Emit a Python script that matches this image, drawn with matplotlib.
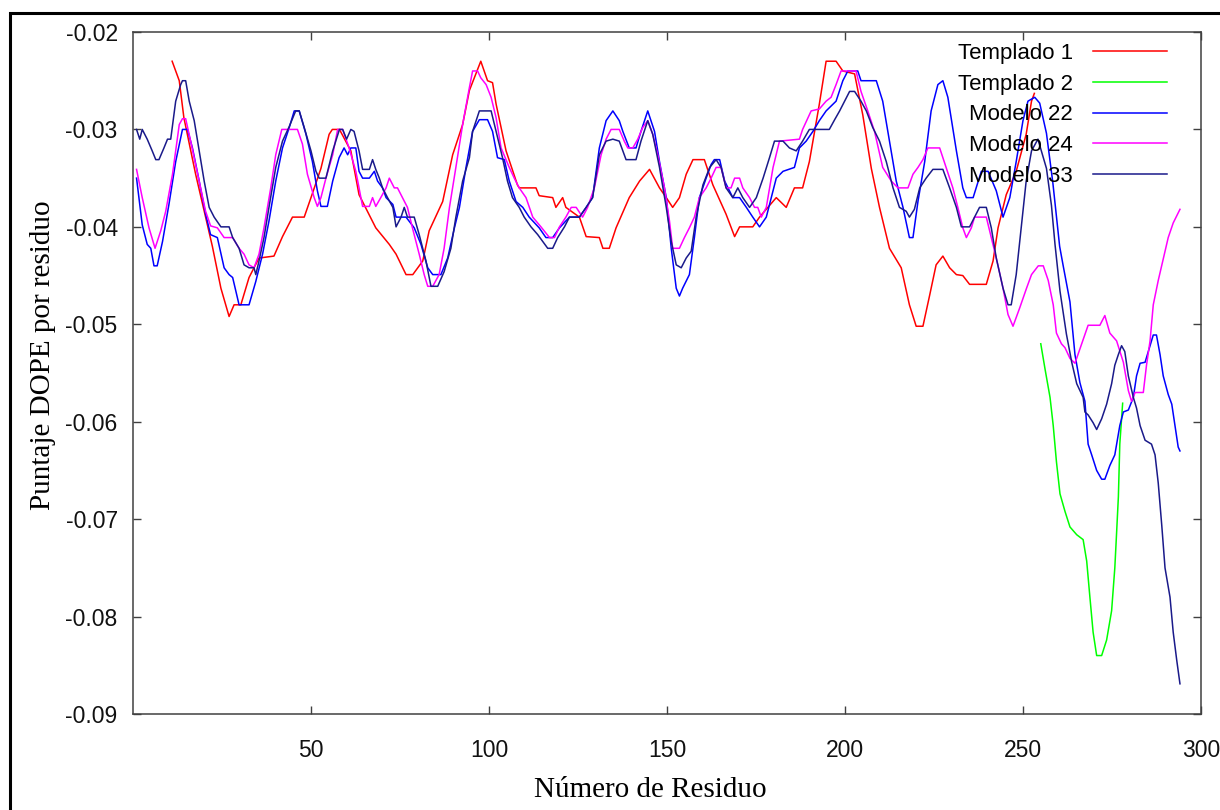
import matplotlib
matplotlib.use("Agg")
import matplotlib.pyplot as plt
from matplotlib.patches import Rectangle
from matplotlib.ticker import FormatStrFormatter

plt.rcParams['axes.unicode_minus'] = False

# DOPE score per residue
t1_x = [11, 13, 14.3, 17.6, 20.4, 22.3, 24.7, 27, 28.4, 30.3, 32.6, 35.4, 39.6, 42, 44.8, 48.1, 50,
        52.8, 55.1, 56, 58, 61.2, 63.5, 68.2, 72, 73.9, 76.7, 78.6, 81.4, 83.2, 87, 89.8, 92.6, 94.5,
        97.7, 99.6, 101, 102, 104.8, 108, 108.5, 113.2, 114.1, 117.9, 118.8, 120.7, 121.6, 125.4,
        127.3, 131, 132, 133.8, 135.7, 139.4, 142.3, 145.1, 147.9, 149.8, 151.6, 153.5, 155.4, 157.3,
        160.5, 162.9, 166.6, 169, 170.4, 174.1, 176, 180.7, 183.5, 185.8, 188.1, 190, 192.8, 194.7,
        197.5, 199.4, 202.7, 205, 207.4, 209.7, 212.5, 215.8, 218.1, 220, 221.9, 223.8, 225.6, 227.5,
        229.4, 231.3, 233.1, 235, 239.7, 241.6, 243, 245.3, 248.1, 250.9, 252.4, 253.2]
t1_y = [-0.0230, -0.0250, -0.0288, -0.0346, -0.0390, -0.0420, -0.0463, -0.0492, -0.0480, -0.0480,
        -0.0452, -0.0432, -0.0430, -0.0410, -0.0390, -0.0390, -0.0370, -0.0340, -0.0305, -0.0300,
        -0.0300, -0.0322, -0.0367, -0.0401, -0.0418, -0.0428, -0.0449, -0.0449, -0.0435, -0.0404,
        -0.0374, -0.0326, -0.0295, -0.0260, -0.0230, -0.0250, -0.0252, -0.0274, -0.0322, -0.0357,
        -0.0360, -0.0360, -0.0368, -0.0370, -0.0380, -0.0370, -0.0380, -0.0390, -0.0410, -0.0411,
        -0.0422, -0.0422, -0.0401, -0.0370, -0.0353, -0.0341, -0.0360, -0.0370, -0.0380, -0.0370,
        -0.0346, -0.0331, -0.0331, -0.0357, -0.0387, -0.0410, -0.0400, -0.0400, -0.0390, -0.0370,
        -0.0380, -0.0360, -0.0360, -0.0333, -0.0274, -0.0230, -0.0230, -0.0240, -0.0243, -0.0285,
        -0.0340, -0.0380, -0.0422, -0.0442, -0.0480, -0.0502, -0.0502, -0.0470, -0.0439, -0.0430,
        -0.0442, -0.0449, -0.0450, -0.0459, -0.0459, -0.0435, -0.0401, -0.0367, -0.0343, -0.0305,
        -0.0271, -0.0263]

t2_x = [255, 256.2, 257.6, 258.5, 259.4, 260.4, 261.8, 263.2, 265.1, 266.9, 267.9, 268.8, 269.7,
        270.7, 272.1, 273.5, 274.9, 275.8, 276.3, 276.8, 277.2, 278]
t2_y = [-0.0520, -0.0546, -0.0575, -0.0604, -0.0641, -0.0674, -0.0692, -0.0708, -0.0716, -0.0721,
        -0.0743, -0.0780, -0.0816, -0.0840, -0.0840, -0.0824, -0.0794, -0.0750, -0.0714, -0.0677,
        -0.0623, -0.0581]

m22_x = [1, 2.6, 4, 5, 5.9, 6.8, 8.3, 10.1, 12, 13.9, 15.3, 16.7, 18.6, 20.4, 21.8, 23.7, 25.6, 27,
         28, 29.8, 32.6, 34.5, 36.4, 38.2, 40.1, 42, 43.9, 45.3, 46.7, 48.6, 50.4, 51.8, 52.8, 54.6,
         56.1, 57.9, 59.3, 60.3, 61.2, 62.6, 63.5, 64.5, 66.4, 67.8, 68.7, 70.1, 71.1, 73, 73.9, 76.7,
         79, 80.9, 82.8, 84.2, 86.5, 88.4, 90.3, 91.7, 93.5, 95.4, 97.3, 99.6, 101, 102.4, 104.3,
         105.7, 107.6, 109.5, 111.3, 114.1, 116, 117.9, 119.8, 122.6, 125.4, 127.3, 129.1, 131, 132.9,
         134.8, 136.6, 137.6, 139.4, 141.3, 142.7, 144.6, 146.5, 147.9, 149.8, 151.2, 152.6, 153.5,
         154.4, 156.3, 157.7, 159.1, 161, 162.4, 163.3, 164.8, 166.2, 168.5, 170.4, 172.3, 174.1, 176,
         177.9, 180.7, 182.6, 185.8, 187.2, 189.1, 191, 192.8, 194.7, 197.5, 199.4, 200.8, 203.6,
         204.5, 208.8, 210.6, 212.5, 214.4, 216.3, 218.1, 219.1, 220.5, 222.4, 224.2, 226.1, 227.5,
         228.9, 231.3, 233.1, 234.1, 236, 238.3, 240.2, 242.5, 244.4, 246.3, 248.1, 250, 251.4, 253.3,
         254.7, 256.6, 258.4, 260.3, 261.3, 263.2, 264.6, 266, 267.4, 268.3, 269.3, 270.7, 272.1, 273,
         274.4, 275.8, 277.2, 278.2, 279.6, 281, 281.9, 282.9, 284.3, 285.7, 286.6, 287.5, 288.5,
         289.4, 290.8, 291.8, 292.7, 293.6, 294.1]
m22_y = [-0.0350, -0.0398, -0.0418, -0.0422, -0.0440, -0.0440, -0.0415, -0.0377, -0.0333, -0.0300,
         -0.0300, -0.0319, -0.0353, -0.0387, -0.0408, -0.0411, -0.0442, -0.0449, -0.0452, -0.0480,
         -0.0480, -0.0456, -0.0428, -0.0394, -0.0353, -0.0319, -0.0298, -0.0281, -0.0281, -0.0305,
         -0.0333, -0.0363, -0.0379, -0.0379, -0.0353, -0.0329, -0.0319, -0.0326, -0.0319, -0.0319,
         -0.0343, -0.0350, -0.0350, -0.0343, -0.0353, -0.0360, -0.0370, -0.0377, -0.0390, -0.0390,
         -0.0401, -0.0418, -0.0442, -0.0449, -0.0449, -0.0432, -0.0401, -0.0380, -0.0340, -0.0302,
         -0.0290, -0.0290, -0.0302, -0.0329, -0.0331, -0.0353, -0.0374, -0.0380, -0.0390, -0.0401,
         -0.0411, -0.0411, -0.0401, -0.0390, -0.0390, -0.0380, -0.0370, -0.0319, -0.0291, -0.0281,
         -0.0291, -0.0302, -0.0319, -0.0319, -0.0302, -0.0281, -0.0302, -0.0333, -0.0370, -0.0422,
         -0.0463, -0.0471, -0.0463, -0.0449, -0.0411, -0.0370, -0.0350, -0.0336, -0.0331, -0.0331,
         -0.0353, -0.0370, -0.0370, -0.0380, -0.0390, -0.0400, -0.0390, -0.0350, -0.0343, -0.0339,
         -0.0319, -0.0312, -0.0302, -0.0291, -0.0281, -0.0271, -0.0250, -0.0240, -0.0240, -0.0250,
         -0.0250, -0.0271, -0.0312, -0.0353, -0.0380, -0.0411, -0.0411, -0.0374, -0.0333, -0.0281,
         -0.0254, -0.0250, -0.0267, -0.0322, -0.0360, -0.0370, -0.0370, -0.0343, -0.0343, -0.0363,
         -0.0390, -0.0370, -0.0333, -0.0291, -0.0271, -0.0267, -0.0273, -0.0304, -0.0355, -0.0420,
         -0.0440, -0.0477, -0.0531, -0.0560, -0.0579, -0.0623, -0.0634, -0.0650, -0.0659, -0.0659,
         -0.0645, -0.0634, -0.0604, -0.0590, -0.0588, -0.0575, -0.0553, -0.0540, -0.0539, -0.0522,
         -0.0511, -0.0511, -0.0531, -0.0553, -0.0572, -0.0582, -0.0604, -0.0626, -0.0630]

m24_x = [1, 2.6, 4.5, 6.2, 7.8, 9.2, 11.1, 13, 13.9, 14.8, 16.2, 17.6, 19, 20.4, 21.8, 23.7, 25.6,
         28, 29.8, 31.2, 32.6, 34, 35.4, 36.8, 38.7, 40.1, 41.8, 46.2, 47.6, 49, 50.9, 51.8, 52.8,
         54.2, 56.1, 57.5, 58.9, 60.7, 62.6, 63.5, 64.5, 66.4, 67.3, 68.2, 69.6, 71.1, 72, 73.4, 74.3,
         75.7, 77.1, 78.5, 80.4, 81.8, 82.8, 84.2, 86, 87.4, 88.9, 90.7, 92.6, 94.5, 95.4, 96.8, 97.7,
         99.2, 100.6, 102, 103.4, 105.7, 107.1, 108.5, 110.4, 112.3, 114.6, 117, 118.4, 119.8, 121.6,
         123.1, 124.5, 126.3, 127.7, 129.6, 131.5, 132.9, 134.3, 136.6, 138, 139, 140.4, 141.8, 143.2,
         144.6, 146, 147.4, 149.3, 150.7, 151.6, 153.5, 154.9, 156.3, 157.7, 159.1, 161, 162.4, 163.8,
         165.2, 166.6, 168, 169, 170.4, 171.3, 173.2, 174.6, 175.5, 176.5, 177.9, 179.8, 181.6, 187.2,
         188.1, 190.5, 192.8, 194.7, 196.1, 197.5, 198.9, 203.1, 204.5, 206.4, 208.3, 210.6, 213,
         214.9, 217.7, 219.1, 220.5, 221.9, 223.3, 226.6, 228.4, 230.3, 231.7, 233.1, 234.1, 235.5,
         236.4, 239.7, 241.1, 242.5, 244.4, 245.8, 247.2, 249.1, 251, 252.4, 254.3, 255.7, 257.1,
         258.5, 259.4, 260.8, 261.8, 263.2, 264.6, 266.5, 268.3, 271.6, 273, 274.4, 276.3, 278.2,
         279.6, 280.5, 281.5, 283.8, 284.7, 285.7, 286.6, 288, 289.4, 290.8, 292.2, 294.1]
m24_y = [-0.0341, -0.0370, -0.0401, -0.0422, -0.0404, -0.0384, -0.0346, -0.0295, -0.0289, -0.0289,
         -0.0312, -0.0336, -0.0360, -0.0384, -0.0399, -0.0401, -0.0411, -0.0411, -0.0422, -0.0428,
         -0.0439, -0.0442, -0.0428, -0.0401, -0.0360, -0.0326, -0.0300, -0.0300, -0.0315, -0.0346,
         -0.0370, -0.0379, -0.0370, -0.0350, -0.0326, -0.0300, -0.0300, -0.0319, -0.0343, -0.0360,
         -0.0379, -0.0379, -0.0370, -0.0379, -0.0370, -0.0360, -0.0350, -0.0360, -0.0360, -0.0370,
         -0.0380, -0.0401, -0.0428, -0.0449, -0.0461, -0.0461, -0.0449, -0.0422, -0.0380, -0.0339,
         -0.0295, -0.0257, -0.0240, -0.0240, -0.0247, -0.0254, -0.0267, -0.0288, -0.0319, -0.0339,
         -0.0350, -0.0360, -0.0370, -0.0390, -0.0400, -0.0411, -0.0411, -0.0400, -0.0390, -0.0380,
         -0.0380, -0.0390, -0.0380, -0.0360, -0.0326, -0.0310, -0.0300, -0.0300, -0.0312, -0.0319,
         -0.0319, -0.0310, -0.0298, -0.0291, -0.0305, -0.0326, -0.0360, -0.0394, -0.0422, -0.0422,
         -0.0411, -0.0401, -0.0390, -0.0370, -0.0360, -0.0350, -0.0339, -0.0339, -0.0360, -0.0360,
         -0.0350, -0.0350, -0.0360, -0.0370, -0.0380, -0.0380, -0.0390, -0.0380, -0.0339, -0.0312,
         -0.0310, -0.0300, -0.0281, -0.0279, -0.0271, -0.0267, -0.0254, -0.0240, -0.0240, -0.0261,
         -0.0281, -0.0302, -0.0339, -0.0353, -0.0360, -0.0360, -0.0346, -0.0339, -0.0331, -0.0319,
         -0.0319, -0.0339, -0.0360, -0.0380, -0.0401, -0.0411, -0.0401, -0.0390, -0.0390, -0.0411,
         -0.0432, -0.0463, -0.0490, -0.0502, -0.0483, -0.0463, -0.0449, -0.0440, -0.0440, -0.0455,
         -0.0480, -0.0509, -0.0520, -0.0524, -0.0535, -0.0540, -0.0520, -0.0501, -0.0501, -0.0491,
         -0.0509, -0.0517, -0.0539, -0.0568, -0.0579, -0.0570, -0.0570, -0.0542, -0.0517, -0.0480,
         -0.0455, -0.0433, -0.0411, -0.0396, -0.0382]

m33_x = [1, 1.9, 2.6, 4, 5.4, 6.4, 7.3, 8.7, 9.7, 10.6, 12, 13.4, 13.9, 14.8, 15.8, 17.2, 18.6, 20,
         21.4, 22.8, 24.7, 27, 28, 29.8, 31.2, 32.6, 34, 34.5, 35.4, 36.8, 38.2, 40.1, 42, 43.9, 45.7,
         46.7, 48.1, 50, 51.4, 52.3, 54.2, 56.1, 58, 58.9, 60, 61.2, 62.1, 63.5, 64.5, 66.4, 67.3,
         68.2, 69.2, 70.1, 71.5, 73, 73.9, 75.3, 76.2, 77.1, 79, 80.4, 82.3, 83.7, 85.6, 87.4, 89.3,
         90.7, 92.6, 94.5, 95.4, 97.3, 100.6, 102, 103.8, 105.2, 106.6, 108.5, 109.9, 111.8, 113.7,
         115.1, 116.5, 117.9, 119.3, 121.2, 122.6, 125.4, 127.3, 129.1, 131, 132.9, 134.8, 136.6,
         138.5, 141.3, 142.7, 144.6, 146, 147.9, 149.8, 151.2, 152.6, 154, 155.4, 156.8, 158.2, 160.1,
         162, 163.8, 165.2, 166.6, 168.5, 169.9, 171.3, 173.2, 175.1, 177, 178.8, 180.2, 182.6, 184.4,
         186.3, 188.1, 190, 195.6, 197.1, 198.5, 199.9, 201.3, 202.7, 204.5, 206, 207.8, 209.7, 211.6,
         213.5, 215.3, 217.2, 218.1, 219.5, 221, 222.8, 224.7, 227.5, 229.4, 231.3, 232.7, 235, 236.4,
         237.8, 239.7, 241.1, 242.5, 244.4, 245.8, 246.7, 248.1, 249.5, 250.9, 252.4, 254.2, 256.6,
         258, 259, 260.4, 262.2, 263.7, 265.1, 266, 266.9, 267.4, 268.3, 269.7, 270.7, 272.1, 273.5,
         274.9, 275.8, 276.8, 277.7, 278.6, 279.6, 281, 281.9, 282.9, 284.3, 286.1, 287.1, 288, 289,
         289.9, 291.3, 292.2, 293.2, 294.1]
m33_y = [-0.0300, -0.0310, -0.0300, -0.0310, -0.0322, -0.0331, -0.0331, -0.0319, -0.0310, -0.0310,
         -0.0271, -0.0254, -0.0250, -0.0250, -0.0271, -0.0291, -0.0322, -0.0353, -0.0380, -0.0390,
         -0.0400, -0.0400, -0.0411, -0.0422, -0.0439, -0.0442, -0.0442, -0.0449, -0.0435, -0.0411,
         -0.0380, -0.0339, -0.0312, -0.0297, -0.0281, -0.0281, -0.0298, -0.0322, -0.0343, -0.0350,
         -0.0350, -0.0322, -0.0300, -0.0300, -0.0310, -0.0300, -0.0302, -0.0322, -0.0341, -0.0341,
         -0.0331, -0.0341, -0.0350, -0.0360, -0.0370, -0.0380, -0.0400, -0.0390, -0.0380, -0.0390,
         -0.0390, -0.0408, -0.0435, -0.0461, -0.0461, -0.0446, -0.0422, -0.0390, -0.0353, -0.0329,
         -0.0302, -0.0281, -0.0281, -0.0302, -0.0329, -0.0353, -0.0370, -0.0380, -0.0390, -0.0400,
         -0.0408, -0.0415, -0.0422, -0.0422, -0.0411, -0.0400, -0.0390, -0.0390, -0.0380, -0.0370,
         -0.0326, -0.0312, -0.0310, -0.0312, -0.0331, -0.0331, -0.0312, -0.0291, -0.0305, -0.0339,
         -0.0380, -0.0415, -0.0439, -0.0442, -0.0432, -0.0425, -0.0390, -0.0357, -0.0339, -0.0331,
         -0.0339, -0.0360, -0.0370, -0.0360, -0.0370, -0.0380, -0.0370, -0.0350, -0.0329, -0.0312,
         -0.0312, -0.0319, -0.0322, -0.0312, -0.0300, -0.0300, -0.0290, -0.0281, -0.0271, -0.0261,
         -0.0261, -0.0271, -0.0281, -0.0298, -0.0312, -0.0333, -0.0360, -0.0380, -0.0384, -0.0390,
         -0.0382, -0.0360, -0.0350, -0.0341, -0.0341, -0.0360, -0.0380, -0.0400, -0.0400, -0.0390,
         -0.0380, -0.0380, -0.0401, -0.0432, -0.0463, -0.0480, -0.0480, -0.0449, -0.0401, -0.0353,
         -0.0322, -0.0310, -0.0340, -0.0378, -0.0418, -0.0466, -0.0510, -0.0539, -0.0561, -0.0568,
         -0.0575, -0.0590, -0.0593, -0.0601, -0.0608, -0.0597, -0.0582, -0.0561, -0.0542, -0.0531,
         -0.0522, -0.0528, -0.0553, -0.0575, -0.0586, -0.0604, -0.0619, -0.0623, -0.0634, -0.0663,
         -0.0707, -0.0750, -0.0780, -0.0816, -0.0845, -0.0869]

series = [
    (t1_x, t1_y, 'Templado 1', '#ff0000'),
    (t2_x, t2_y, 'Templado 2', '#00ff00'),
    (m22_x, m22_y, 'Modelo 22', '#0000ff'),
    (m24_x, m24_y, 'Modelo 24', '#ff00ff'),
    (m33_x, m33_y, 'Modelo 33', '#1a1a8a'),
]
x_ticks = [50, 100, 150, 200, 250, 300]
y_ticks = [-0.09, -0.08, -0.07, -0.06, -0.05, -0.04, -0.03, -0.02]

sans = ['Liberation Sans', 'DejaVu Sans']
serif = ['Liberation Serif', 'DejaVu Serif']

fig = plt.figure(figsize=(12.2, 8.1), dpi=100)
ax = fig.add_axes([0.109, 0.1185, 0.8754, 0.842])

for xs, ys, name, col in series:
    ax.plot(xs, ys, color=col, lw=1.1, label=name)

ax.set_xlim(0, 300)
ax.set_ylim(-0.09, -0.02)
ax.set_xticks(x_ticks)
ax.set_yticks(y_ticks)
ax.yaxis.set_major_formatter(FormatStrFormatter('%.2f'))
ax.tick_params(direction='in', top=True, right=True, length=6, width=1,
               color='#404040', labelsize=16.5, labelcolor='#111111')
ax.tick_params(axis='x', pad=18)
ax.tick_params(axis='y', pad=11)
for lab in ax.get_xticklabels() + ax.get_yticklabels():
    lab.set_family(sans)
for s in ax.spines.values():
    s.set_color('#404040')
    s.set_linewidth(1.1)

ax.set_xlabel('Número de Residuo', family=serif, fontsize=21)
ax.set_ylabel('Puntaje DOPE por residuo', family=serif, fontsize=21)
ax.xaxis.set_label_coords(0.484, -0.093)
ax.yaxis.set_label_coords(-0.072, 0.526)

leg = ax.legend(loc='upper right', bbox_to_anchor=(0.968, 0.984), frameon=False,
                markerfirst=False, prop={'family': sans, 'size': 16},
                handlelength=3.33, handletextpad=0.9, labelspacing=0.44,
                borderpad=0, borderaxespad=0)

# black frame around the whole picture
fig.add_artist(Rectangle((10 / 1220, -0.1), 1.2, 1 - 13 / 810 + 0.1,
                         transform=fig.transFigure, fill=False, lw=2.2, ec='black'))

fig.savefig('out.png', dpi=100)
